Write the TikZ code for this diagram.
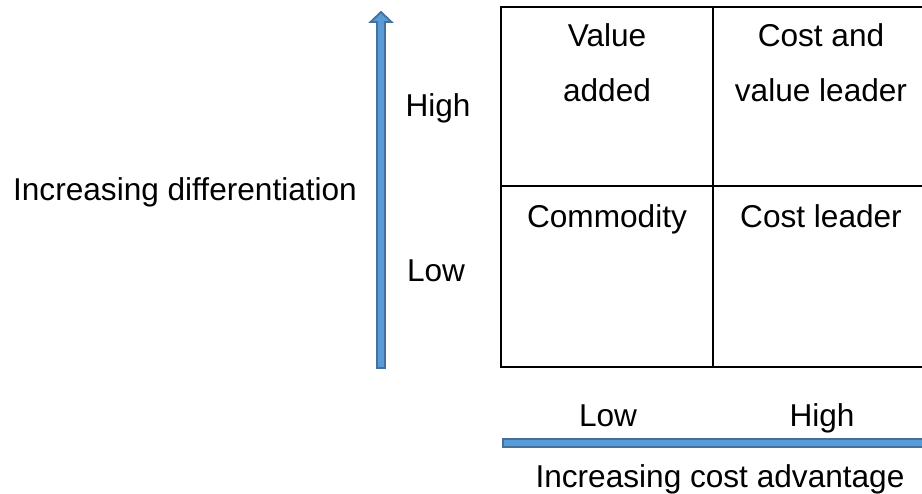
\documentclass[tikz,border=0pt]{standalone}
\usepackage{fontspec}
\setmainfont{Liberation Sans}
\usepackage{tikz}
\usetikzlibrary{positioning}

\definecolor{barfill}{HTML}{5B9BD5}
\definecolor{barline}{HTML}{41719C}

\begin{document}
\begin{tikzpicture}[x=1pt, y=-1pt,
        every node/.style={inner sep=0pt, anchor=base, align=center,
                           font=\fontsize{31.6}{55}\selectfont},
        grid/.style={draw=black, line width=1.3pt},
        block/.style={fill=barfill, draw=barline, line width=1.8pt,
                      line join=miter}]
      \useasboundingbox (0,0) rectangle (922,494);
      \clip (0,0) rectangle (922,494);
      % the 2x2 grid
      \draw[grid] (930,7) -- (501,7) -- (501,367) -- (930,367);
      \draw[grid] (713,7) -- (713,367);
      \draw[grid] (501,186) -- (930,186);
      % quadrants (base = last line)
      \node (valadd)  at (607,102) {Value\\added};
      \node (costval) at (821,102) {Cost and\\value leader};
      \node (commod)  at (607,228) {Commodity};
      \node (costlead) at (821,228) {Cost leader};
      % vertical axis
      \draw[block] (381,12) -- (391.5,22) -- (385,22) -- (385,368)
                   -- (377,368) -- (377,22) -- (370.5,22) -- cycle;
      \node (vhigh) at (438,117) {High};
      \node (vlow)  at (436,282) {Low};
      \node (vlab)  at (185,201) {Increasing differentiation};
      % horizontal axis
      \draw[block] (503,439) rectangle (940,447);
      \node (hlow)  at (608,427) {Low};
      \node (hhigh) at (822,427) {High};
      \node (hlab)  at (720,487) {Increasing cost advantage};
    \end{tikzpicture}
\end{document}
